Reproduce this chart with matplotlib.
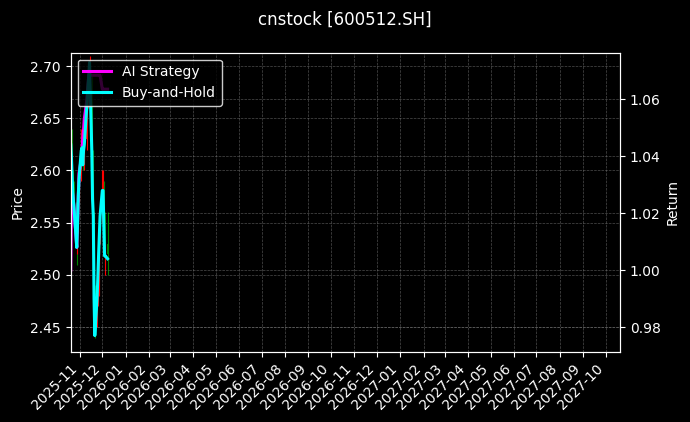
import pandas as pd
import matplotlib
matplotlib.use("Agg")
from matplotlib import pyplot as plt
import matplotlib.dates as mdates

# datos
fechas = pd.to_datetime([
    "2025-10-20", "2025-10-21", "2025-10-22", "2025-10-23", "2025-10-24",
    "2025-10-27", "2025-10-28", "2025-10-29", "2025-10-30", "2025-10-31",
    "2025-11-03", "2025-11-04", "2025-11-05", "2025-11-06", "2025-11-07",
    "2025-11-10", "2025-11-11", "2025-11-12", "2025-11-13", "2025-11-14",
    "2025-11-17", "2025-11-18", "2025-11-19", "2025-11-20", "2025-11-21",
    "2025-11-24", "2025-11-25", "2025-11-26", "2025-11-27", "2025-11-28",
    "2025-12-01", "2025-12-02", "2025-12-03", "2025-12-04", "2025-12-05",
    "2025-12-08",
])

apertura = [2.61, 2.62, 2.61, 2.59, 2.58, 2.56, 2.54, 2.53, 2.55, 2.58,
            2.60, 2.62, 2.62, 2.61, 2.62, 2.63, 2.66, 2.67, 2.68, 2.69,
            2.68, 2.61, 2.57, 2.55, 2.48, 2.45, 2.48, 2.50, 2.52, 2.54,
            2.56, 2.58, 2.58, 2.55, 2.52, 2.53]
maximo = [2.63, 2.64, 2.64, 2.60, 2.59, 2.57, 2.55, 2.56, 2.59, 2.60,
          2.64, 2.64, 2.63, 2.63, 2.64, 2.67, 2.68, 2.69, 2.70, 2.71,
          2.69, 2.62, 2.58, 2.56, 2.49, 2.49, 2.50, 2.53, 2.55, 2.57,
          2.60, 2.60, 2.59, 2.56, 2.53, 2.56]
minimo = [2.60, 2.60, 2.58, 2.57, 2.56, 2.53, 2.51, 2.52, 2.54, 2.57,
          2.59, 2.61, 2.60, 2.60, 2.61, 2.62, 2.65, 2.66, 2.67, 2.68,
          2.61, 2.56, 2.55, 2.47, 2.44, 2.45, 2.47, 2.48, 2.50, 2.53,
          2.55, 2.57, 2.54, 2.51, 2.50, 2.50]
cierre = [2.62, 2.61, 2.59, 2.58, 2.57, 2.54, 2.53, 2.55, 2.58, 2.59,
          2.62, 2.62, 2.61, 2.62, 2.62, 2.66, 2.67, 2.68, 2.69, 2.70,
          2.62, 2.57, 2.56, 2.48, 2.44, 2.48, 2.50, 2.52, 2.54, 2.56,
          2.58, 2.58, 2.55, 2.52, 2.52, 2.52]

ret_ai = [1.000, 1.025, 1.028, 1.026, 1.023, 1.012, 1.008, 1.016, 1.025, 1.034,
          1.039, 1.042, 1.046, 1.049, 1.053, 1.059, 1.062, 1.065, 1.0685, 1.0685,
          1.0685, 1.0685, 1.0685, 1.0685, 1.0685, 1.0685, 1.0685, 1.0685, 1.0685, 1.0685,
          1.0636, 1.0636, 1.0636, 1.0636, 1.0636, 1.0636]
ret_bh = [1.044, 1.039, 1.032, 1.026, 1.023, 1.012, 1.008, 1.016, 1.026, 1.032,
          1.042, 1.043, 1.037, 1.042, 1.044, 1.056, 1.060, 1.065, 1.0685, 1.073,
          1.042, 1.025, 1.019, 0.990, 0.977, 0.990, 0.997, 1.005, 1.012, 1.019,
          1.028, 1.028, 1.016, 1.005, 1.005, 1.004]

plt.style.use('dark_background')
fig = plt.figure(figsize=(6.9, 4.22), dpi=100, facecolor='black')
ax = fig.add_axes([0.1025, 0.167, 0.796, 0.708])
ax.set_facecolor('black')

# velas
for f, o, h, l, c in zip(fechas, apertura, maximo, minimo, cierre):
    color = 'red' if c >= o else 'green'
    ax.vlines(f, l, h, color=color, linewidth=0.8)
    ax.bar(f, abs(c - o) if c != o else 0.002, bottom=min(o, c), width=0.6, color=color)

ax.set_ylabel('Price', color='white')
ax.set_ylim(2.4267, 2.7127)
ax.set_yticks([2.45, 2.50, 2.55, 2.60, 2.65, 2.70])
ax.set_xlim(pd.Timestamp("2025-10-20"), pd.Timestamp("2027-10-20"))
ax.xaxis.set_major_locator(mdates.MonthLocator())
ax.xaxis.set_major_formatter(mdates.DateFormatter('%Y-%m'))
plt.setp(ax.get_xticklabels(), rotation=45, ha='right')
ax.grid(True, linestyle='--', linewidth=0.5, color='gray', alpha=0.6)

ax2 = ax.twinx()
ax2.plot(fechas, ret_ai, color='magenta', linewidth=2.2, label='AI Strategy')
ax2.plot(fechas, ret_bh, color='cyan', linewidth=2.2, label='Buy-and-Hold')
ax2.set_ylabel('Return', color='white')
ax2.set_ylim(0.9714, 1.0764)
ax2.set_yticks([0.98, 1.00, 1.02, 1.04, 1.06])
ax2.grid(True, linestyle='--', linewidth=0.5, color='gray', alpha=0.6)
ax2.legend(loc='upper left', facecolor='black', edgecolor='white', framealpha=0.8)

fig.suptitle('cnstock [600512.SH]', color='white', y=0.975)
plt.savefig('out.png', dpi=100, facecolor='black')
